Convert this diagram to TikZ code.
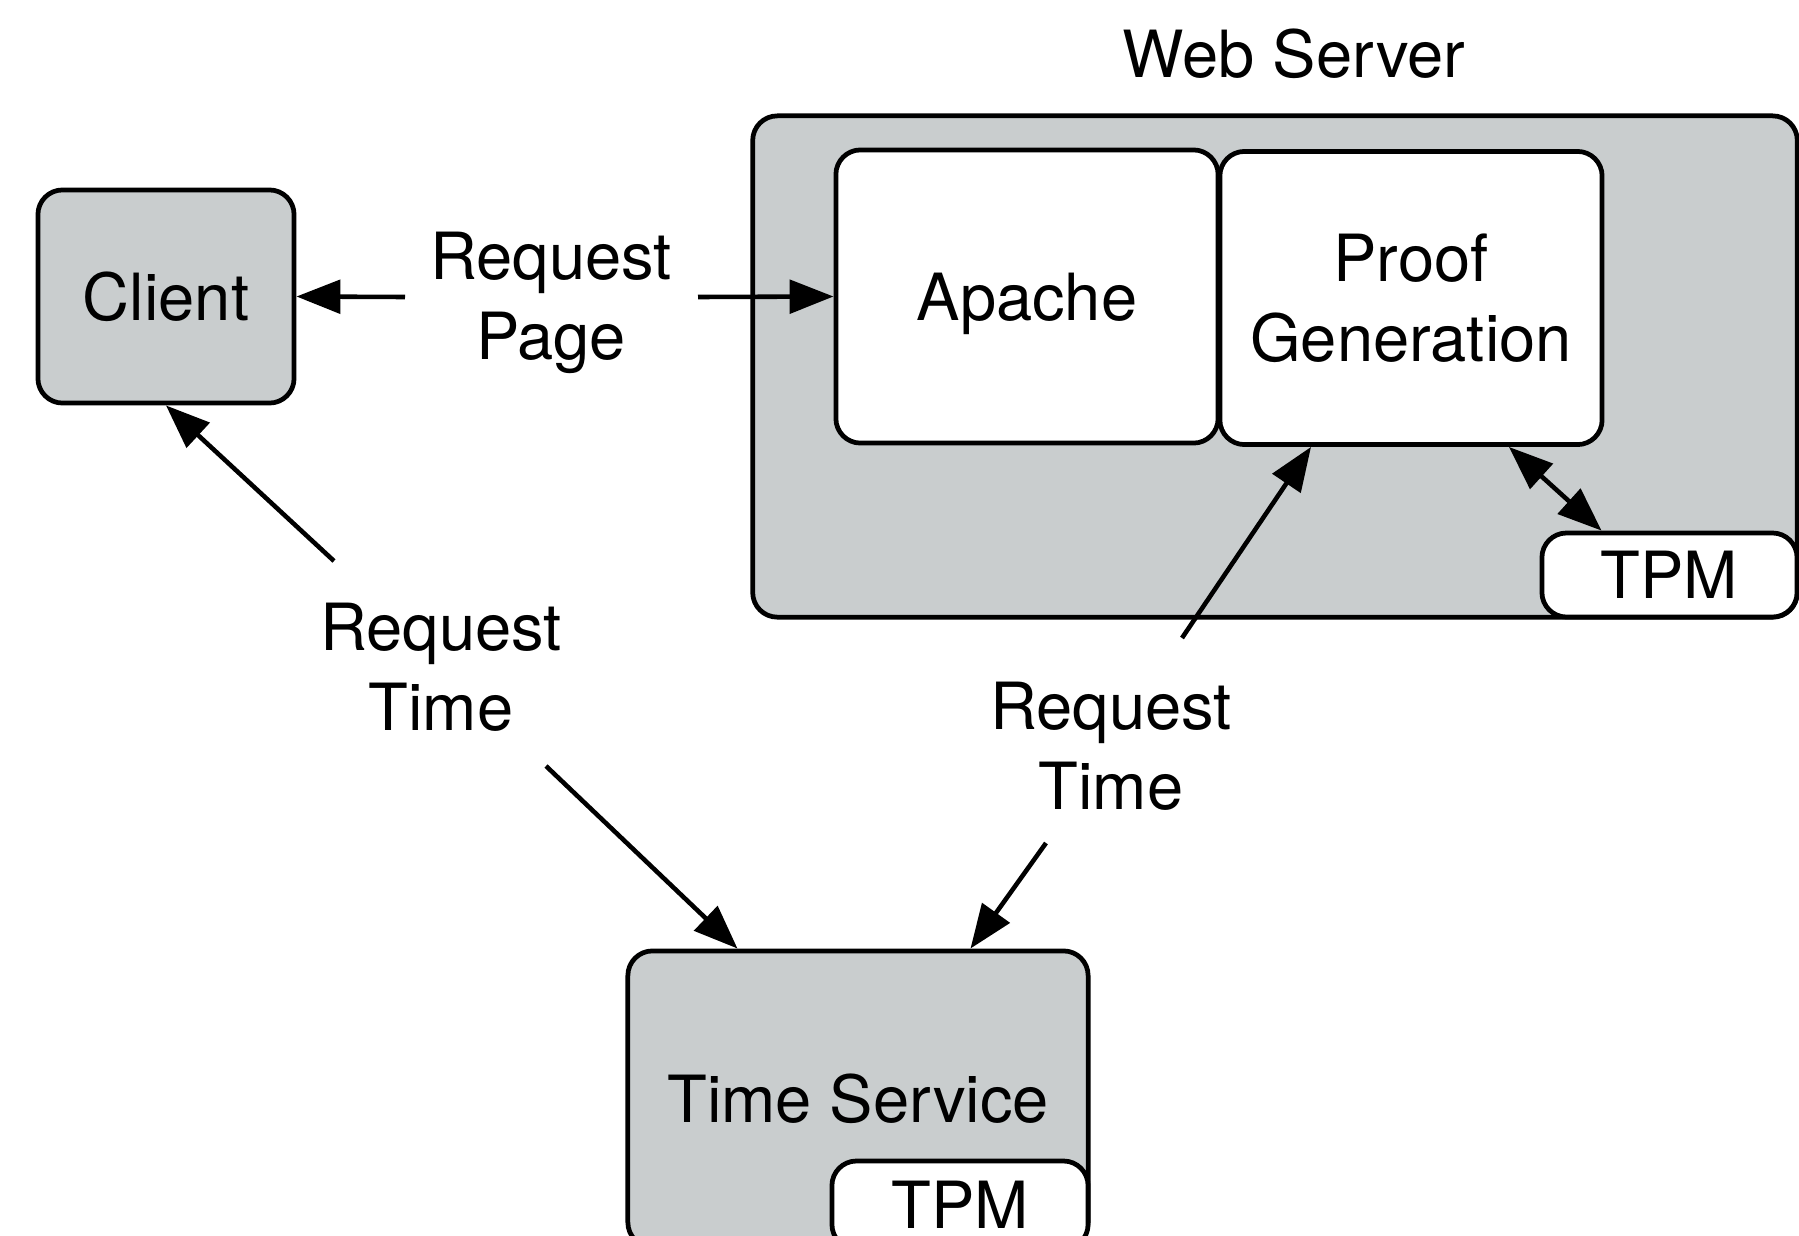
\documentclass[tikz,border=0pt]{standalone}
\usepackage{fontspec}
\setmainfont{TeX Gyre Heros}
\usetikzlibrary{arrows.meta,calc}
\definecolor{boxgray}{RGB}{201,205,206}
\tikzset{
  bx/.style={draw=black, line width=1.35pt, rounded corners=7pt, inner sep=0pt, align=center},
  graybox/.style={bx, fill=boxgray},
  whitebox/.style={bx, fill=white},
  lbl/.style={align=center, inner sep=0pt},
  arr/.style={line width=1.3pt, -{Triangle[length=12.5pt,width=9.5pt]}},
  darr/.style={line width=1.3pt, {Triangle[length=12.5pt,width=9.5pt]}-{Triangle[length=12.5pt,width=9.5pt]}},
}
\begin{document}
\begin{tikzpicture}[x=0.01cm, y=-0.01cm, every node/.style={font=\fontsize{18.5}{22.8}\selectfont}]
\clip (0,0) rectangle (1799,1236);
\fill[white] (0,0) rectangle (1799,1236);
% Web server
\node[graybox, minimum width=10.44cm, minimum height=5.01cm] (web) at (1275,366.5) {};
\node[lbl] (webl) at (1294,54) {Web Server};
\node[whitebox, minimum width=3.82cm, minimum height=2.93cm, text depth=0pt] (apache) at (1027,296.5) {Apache};
\node[whitebox, minimum width=3.82cm, minimum height=2.93cm] (proof) at (1411,298) {Proof\\Generation};
\node[whitebox, minimum width=2.55cm, minimum height=0.84cm] (tpmw) at (1669.5,575) {TPM};
% Client
\node[graybox, minimum width=2.56cm, minimum height=2.13cm] (client) at (166,296.5) {Client};
% Time service
\node[graybox, minimum width=4.6cm, minimum height=2.96cm] (ts) at (858,1099) {Time Service};
\node[whitebox, minimum width=2.56cm, minimum height=0.88cm] (tpmt) at (960,1205) {TPM};
% Labels
\node[lbl] (rp) at (551,303) {Request\\Page};
\node[lbl] (rt1) at (441,667) {Request\\Time};
\node[lbl] (rt2) at (1111,746) {Request\\Time};
% connector ends
\coordinate (rpL) at (405,297);
\coordinate (rpR) at (698,297);
\coordinate (rt1U) at (334,561);
\coordinate (rt1D) at (546,766);
\coordinate (rt2U) at (1182,638);
\coordinate (rt2D) at (1046,843);
\coordinate (tsA) at ($(ts.north west)+(112,0)$);
\coordinate (tsB) at ($(ts.north west)+(345,0)$);
\coordinate (pgA) at ($(proof.south)+(-100,0)$);
\coordinate (pgB) at ($(proof.south)+(98,0)$);
\coordinate (tpA) at ($(tpmw.north west)+(62,0)$);
% connectors
\draw[arr] (rpL) -- (client.east);
\draw[arr] (rpR) -- (apache.west);
\draw[arr] (rt1U) -- (client.south);
\draw[arr] (rt1D) -- (tsA);
\draw[arr] (rt2D) -- (tsB);
\draw[arr] (rt2U) -- (pgA);
\draw[darr] (pgB) -- (tpA);
\end{tikzpicture}
\end{document}
